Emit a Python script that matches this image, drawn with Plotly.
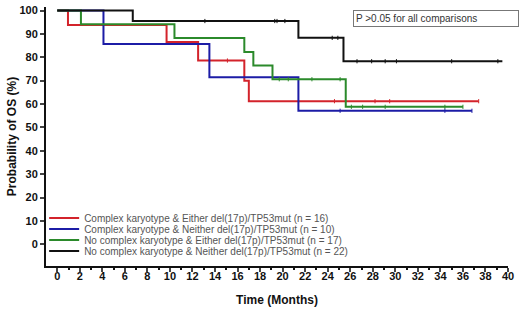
import plotly.graph_objects as go

# Kaplan-Meier steps: (time in months, survival %)
red_t = [0, 0.95, 9.7, 12.5, 16.6, 17.0, 37.4]
red_s = [100, 93.8, 86.5, 78.6, 70.0, 61.2, 61.2]
red_cens = [15.1, 24.6, 28.2, 29.5, 37.4]

blue_t = [0, 4.1, 13.5, 21.4, 36.8]
blue_s = [100, 85.7, 71.4, 57.1, 57.1]
blue_cens = [25.1, 34.4, 36.8]

green_t = [0, 2.1, 10.4, 16.6, 17.4, 19.1, 25.6, 36.0]
green_s = [100, 94.1, 88.2, 82.3, 76.5, 70.6, 58.8, 58.8]
green_cens = [19.7, 20.5, 22.6, 25.1, 26.1, 27.1, 29.1, 34.4, 36.0]

black_t = [0, 6.7, 21.4, 25.4, 39.5]
black_s = [100, 95.5, 88.3, 78.3, 78.3]
black_cens = [13.1, 19.3, 19.5, 20.2, 24.4, 24.9, 26.6, 27.9, 29.1, 30.1, 35.0, 39.1]

names = [
    "Complex karyotype & Either del(17p)/TP53mut (n = 16)",
    "Complex karyotype & Neither del(17p)/TP53mut (n = 10)",
    "No complex karyotype & Either del(17p)/TP53mut (n = 17)",
    "No complex karyotype & Neither del(17p)/TP53mut (n = 22)",
]
colors = ["#d3232b", "#1c1ca6", "#2b8a2b", "#111111"]
FONT = "Liberation Sans, Arial"


def surv_at(ts, ss, t):
    val = ss[0]
    for ti, si in zip(ts, ss):
        if ti <= t:
            val = si
    return val


fig = go.Figure()
groups = [(red_t, red_s, red_cens), (blue_t, blue_s, blue_cens),
          (green_t, green_s, green_cens), (black_t, black_s, black_cens)]
legend_ids = ["legend", "legend2", "legend3", "legend4"]
for (ts, ss, cens), name, col, lg in zip(groups, names, colors, legend_ids):
    fig.add_trace(go.Scatter(x=ts, y=ss, mode="lines", name=name, line_shape="hv",
                             line=dict(color=col, width=2), legendgroup=name, legend=lg))
    fig.add_trace(go.Scatter(x=cens, y=[surv_at(ts, ss, c) for c in cens], mode="markers",
                             marker=dict(symbol="line-ns", size=3,
                                         line=dict(color=col, width=1)),
                             showlegend=False, legendgroup=name, hoverinfo="skip"))

fig.add_annotation(x=26.2, y=100.3, xref="x", yref="y", xanchor="left", yanchor="top",
                   text="P >0.05 for all comparisons", showarrow=False,
                   width=160, align="left", bordercolor="#777", borderwidth=1, borderpad=2,
                   font=dict(size=10, color="#333", family=FONT))

# one legend per series so the rows can sit as tightly as in the original
leg_style = dict(xanchor="left", yanchor="middle", bgcolor="rgba(0,0,0,0)",
                 font=dict(size=10, color="#555", family=FONT), itemwidth=30)
row_y = [0.185, 0.143, 0.100, 0.058]
layout_legends = {lg: dict(x=-0.004, y=yy, **leg_style) for lg, yy in zip(legend_ids, row_y)}

fig.update_layout(
    width=520, height=315,
    margin=dict(l=46, r=12, t=7, b=49),
    plot_bgcolor="white", paper_bgcolor="white",
    font=dict(family=FONT, color="#111"),
    showlegend=True,
    xaxis=dict(range=[-1, 40], tickmode="array", tickvals=list(range(0, 41, 2)),
               ticks="outside", ticklen=4, tickwidth=1.5, showline=True, linecolor="#111",
               linewidth=2, showgrid=False, zeroline=False, automargin=False,
               ticklabelstandoff=-5,
               minor=dict(tickvals=list(range(1, 40, 2)), ticks="outside", ticklen=2,
                          tickcolor="#111"),
               tickfont=dict(size=11, family=FONT, weight="bold"),
               title=dict(text="<b>Time (Months)</b>", font=dict(size=12), standoff=14)),
    yaxis=dict(range=[-9.3, 101.5], tickmode="array", tickvals=list(range(0, 101, 10)),
               ticks="outside", ticklen=4, tickwidth=1.5, showline=True, linecolor="#111",
               linewidth=2, showgrid=False, zeroline=False, automargin=False,
               tickfont=dict(size=11, family=FONT, weight="bold"),
               title=dict(text="<b>Probability of OS (%)</b>", font=dict(size=12), standoff=0)),
    **layout_legends,
)

fig.write_html("out.html", config={"displayModeBar": False},
               post_script="document.body.style.margin = '0';")
